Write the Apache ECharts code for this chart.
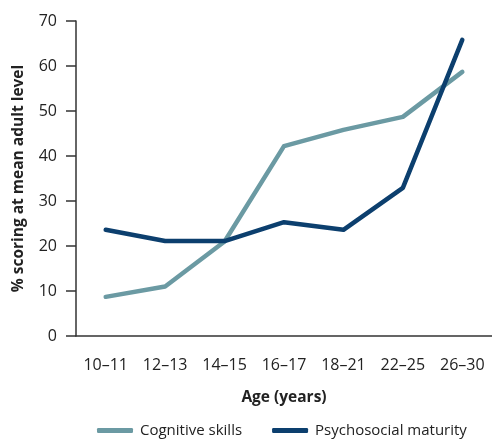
<!DOCTYPE html>
<html><head><meta charset="utf-8">
<script src="https://cdn.jsdelivr.net/npm/echarts@6/dist/echarts.min.js"></script>
<style>html,body{margin:0;padding:0;background:#fff}#c{width:492px;height:443px}</style>
</head><body><div id="c"></div>
<script>
const categories = ['10–11','12–13','14–15','16–17','18–21','22–25','26–30'];
const cognitiveSkills = [8.7, 11, 21, 42.2, 45.8, 48.7, 58.7];
const psychosocialMaturity = [23.6, 21.1, 21.1, 25.3, 23.6, 32.9, 65.8];
const yTicks = {min: 0, max: 70, interval: 10};

const font = 'Open Sans';
const chart = echarts.init(document.getElementById('c'));
chart.setOption({
  animation: false,
  textStyle: {fontFamily: font},
  grid: {left: 76, top: 21, width: 424, height: 315, containLabel: false},
  legend: {
    bottom: 0, left: 92, width: 450,
    itemWidth: 36, itemHeight: 5, itemGap: 30,
    icon: 'roundRect',
    textStyle: {fontFamily: font, fontSize: 15, color: '#222', padding: [0,0,0,2]},
    data: ['Cognitive skills','Psychosocial maturity']
  },
  xAxis: {
    type: 'category', data: categories, boundaryGap: true,
    name: 'Age (years)', nameLocation: 'middle', nameGap: 54,
    nameTextStyle: {fontFamily: font, fontSize: 15.5, fontWeight: 'bold', color: '#222'},
    axisLine: {lineStyle: {color: '#333', width: 1.5}},
    axisTick: {length: 10, lineStyle: {color: '#333', width: 1.5}},
    axisLabel: {fontFamily: font, fontSize: 16, color: '#222', margin: 21, interval: 0}
  },
  yAxis: {
    type: 'value', min: yTicks.min, max: yTicks.max, interval: yTicks.interval,
    name: '% scoring at mean adult level', nameLocation: 'middle', nameGap: 49,
    nameTextStyle: {fontFamily: font, fontSize: 15.5, fontWeight: 'bold', color: '#222'},
    splitLine: {show: false},
    axisLine: {show: true, lineStyle: {color: '#333', width: 1.5}},
    axisTick: {show: true, length: 10, lineStyle: {color: '#333', width: 1.5}},
    axisLabel: {fontFamily: font, fontSize: 16, color: '#222', margin: 19}
  },
  series: [
    {name: 'Cognitive skills', type: 'line', data: cognitiveSkills, symbol: 'none',
     lineStyle: {color: '#6b9aa3', width: 4.5, cap: 'round', join: 'round'}, itemStyle: {color: '#6b9aa3'}},
    {name: 'Psychosocial maturity', type: 'line', data: psychosocialMaturity, symbol: 'none',
     lineStyle: {color: '#0c3f6e', width: 4.5, cap: 'round', join: 'round'}, itemStyle: {color: '#0c3f6e'}}
  ]
});
</script></body></html>
